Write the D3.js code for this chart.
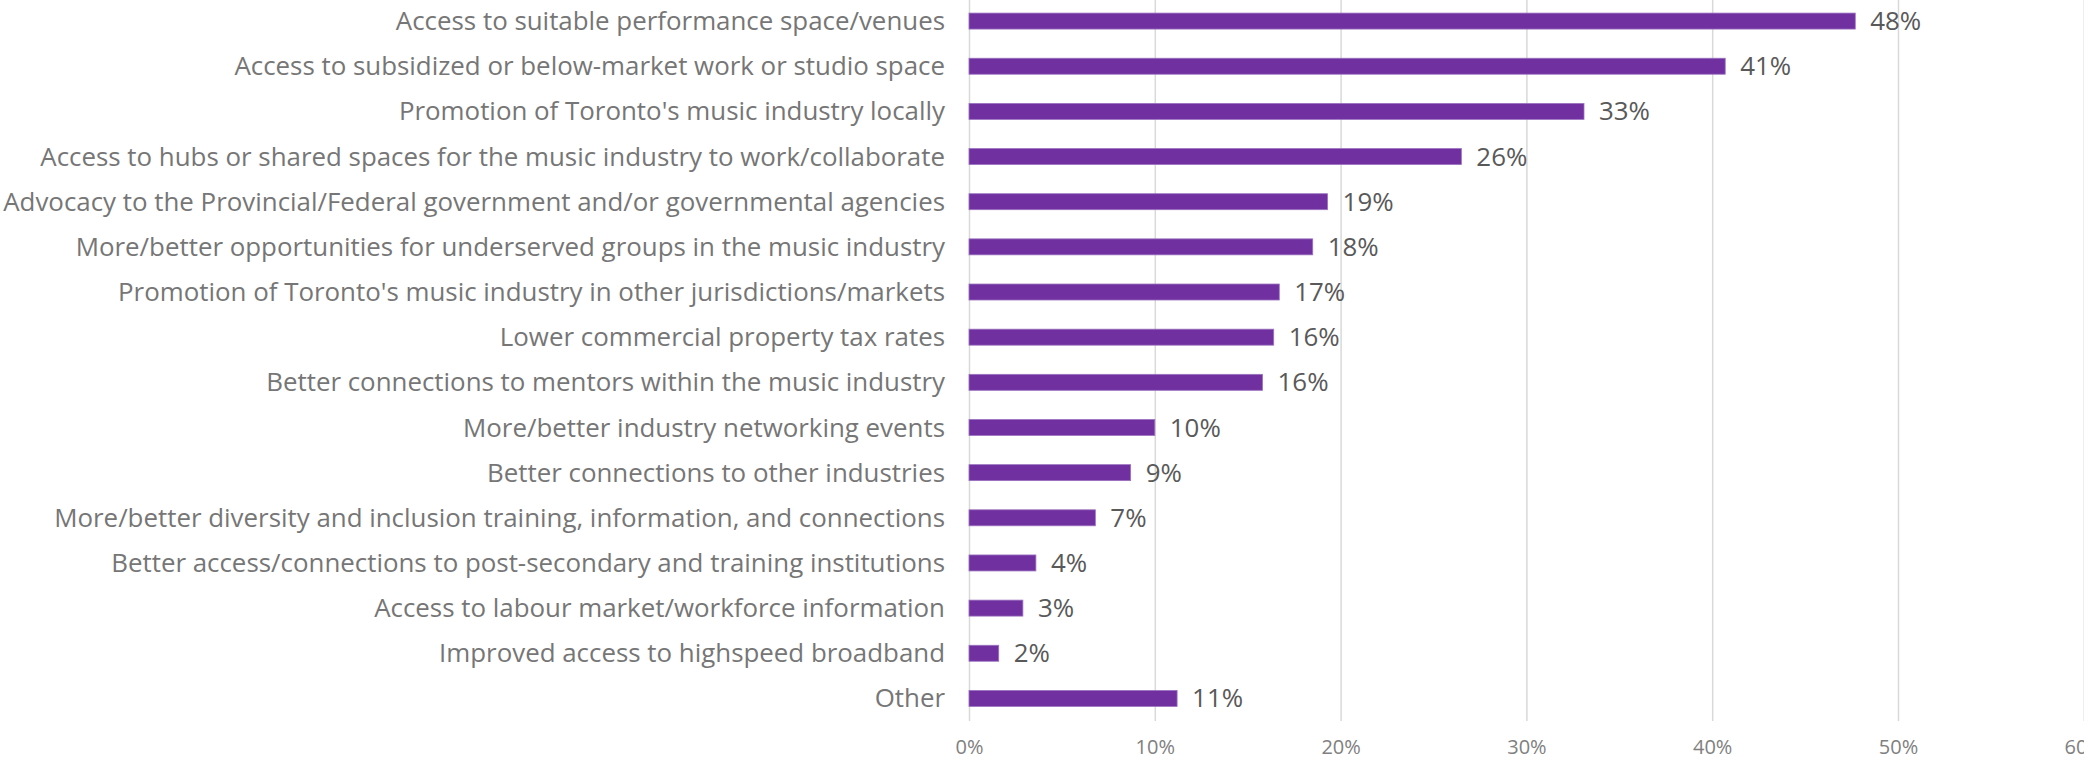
<!DOCTYPE html>
<html>
<head>
<meta charset="utf-8">
<script src="https://cdn.jsdelivr.net/npm/d3@7"></script>
<style>
  html, body { margin: 0; padding: 0; background: #fff; }
  svg { display: block; }
  text { font-family: "Open Sans", Lato, sans-serif; }
</style>
</head>
<body>
<script>

const categories = [
    'Access to suitable performance space/venues',
    'Access to subsidized or below-market work or studio space',
    "Promotion of Toronto's music industry locally",
    'Access to hubs or shared spaces for the music industry to work/collaborate',
    'Advocacy to the Provincial/Federal government and/or governmental agencies',
    'More/better opportunities for underserved groups in the music industry',
    "Promotion of Toronto's music industry in other jurisdictions/markets",
    'Lower commercial property tax rates',
    'Better connections to mentors within the music industry',
    'More/better industry networking events',
    'Better connections to other industries',
    'More/better diversity and inclusion training, information, and connections',
    'Better access/connections to post-secondary and training institutions',
    'Access to labour market/workforce information',
    'Improved access to highspeed broadband',
    'Other'
]

// shares as drawn by the bars
const values = [0.477, 0.407, 0.331, 0.265, 0.193, 0.185, 0.167, 0.164, 0.158, 0.100, 0.087, 0.068, 0.036, 0.029, 0.016, 0.112]

// data labels as printed
const valueLabels = ['48%', '41%', '33%', '26%', '19%', '18%', '17%', '16%', '16%', '10%', '9%', '7%', '4%', '3%', '2%', '11%']

const xTicks = [0, 0.1, 0.2, 0.3, 0.4, 0.5, 0.6]

const W = 2084, H = 764

const svg = d3.select('body')
                .append('svg')
                .attr('width', W)
                .attr('height', H)

const x = d3.scaleLinear()
            .domain([0, 0.6])
            .range([969, 2083.8])

const y = d3.scaleBand()
            .domain(categories)
            .range([-1.5, 721])
            .paddingInner(0.646)
            .paddingOuter(0.323)

// gridlines + tick labels
const xAxis = svg.append('g')
    .attr('transform', 'translate(0, 721)')
    .call(d3.axisBottom(x)
            .tickValues(xTicks)
            .tickFormat(d3.format('.0%'))
            .tickSize(-723)
            .tickPadding(19))

xAxis.select('.domain').remove()
xAxis.selectAll('.tick line')
    .attr('stroke', '#d9d9d9')
    .attr('stroke-width', 1.5)
xAxis.selectAll('.tick text')
    .attr('fill', '#808080')
    .style('font-size', '20px')
    .style('font-family', '"Open Sans", Lato, sans-serif')

// bars
svg.append('g')
   .selectAll('rect')
   .data(values)
   .join('rect')
    .attr('x', x(0))
    .attr('y', (d, i) => y(categories[i]))
    .attr('width', d => x(d) - x(0))
    .attr('height', y.bandwidth())
    .attr('fill', '#7030a0')
    .attr('stroke', '#9b72c0')
    .attr('stroke-width', 0.8)

// category labels
const catLabels = svg.append('g')
   .selectAll('text')
   .data(categories)
   .join('text')
    .attr('x', x(0) - 24)
    .attr('y', d => y(d) + y.bandwidth() / 2)
    .attr('dy', '0.35em')
    .attr('text-anchor', 'end')
    .attr('fill', '#767676')
    .style('font-size', '26px')
    .text(d => d)

// size the font so the longest label spans the same width as in the original
let widest = d3.max(catLabels.nodes(), n => n.getComputedTextLength())
let fs = 26 * 942 / widest
catLabels.style('font-size', fs + 'px')

// value labels
svg.append('g')
   .selectAll('text')
   .data(values)
   .join('text')
    .attr('x', d => x(d) + 15)
    .attr('y', (d, i) => y(categories[i]) + y.bandwidth() / 2)
    .attr('dy', '0.35em')
    .attr('fill', '#595959')
    .style('font-size', fs + 'px')
    .text((d, i) => valueLabels[i])

</script>
</body>
</html>
